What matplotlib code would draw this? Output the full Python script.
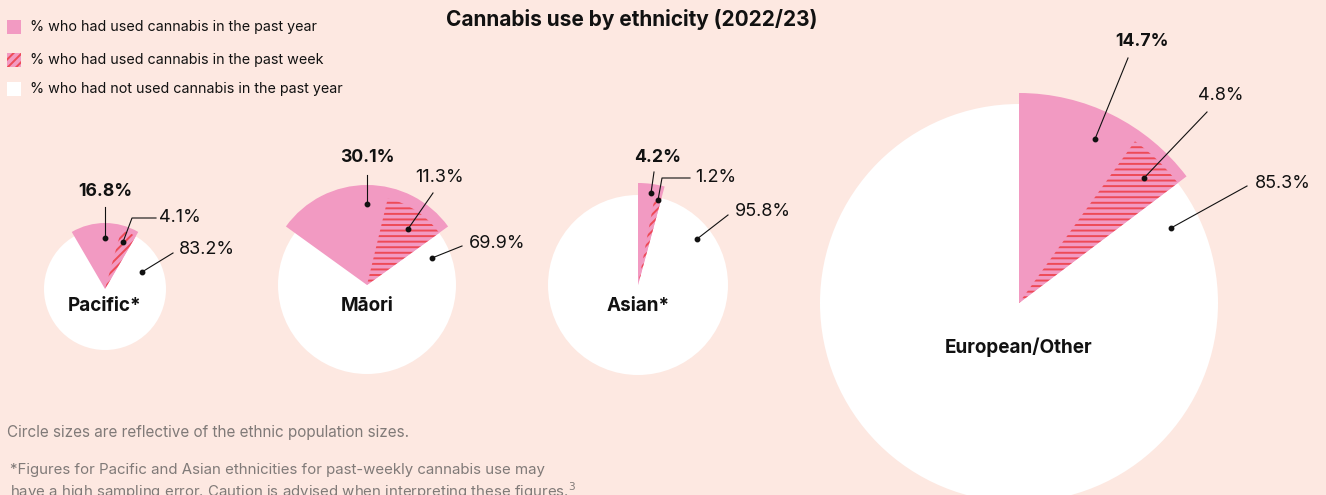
import matplotlib.pyplot as plt
from matplotlib.patches import Circle, Wedge, Rectangle

plt.rcParams['font.family'] = ['Inter', 'DejaVu Sans']
plt.rcParams['hatch.linewidth'] = 1.4

groups = ['Pacific*', 'Māori', 'Asian*', 'European/Other']
past_year = [16.8, 30.1, 4.2, 14.7]
past_week = [4.1, 11.3, 1.2, 4.8]
not_used = [83.2, 69.9, 95.8, 85.3]

W, H = 1326, 495
BG = '#fde8e1'
PINK = '#f29ac2'
RED = '#ee4a57'
INK = '#111111'

# circle layout in pixel coordinates
centres = [(105, 289), (367, 285), (638, 285), (1019, 303)]
radii = [61, 89, 90, 199]
outer = [66, 100, 102, 210]
centred = [True, True, False, False]
hatches = ['////', '---', '////', '---']
name_y = [306, 306, 306, 347]

# callouts: leader points (last one gets the dot) and text centre
year_call = [([(105, 207), (105, 238)], (105, 192)),
             ([(367, 175), (367, 204)], (367, 158)),
             ([(654, 172), (651, 193)], (658, 157)),
             ([(1128, 58), (1095, 139)], (1142, 42))]
week_call = [([(156, 218), (132, 218), (123, 242)], (180, 218)),
             ([(433, 193), (408, 229)], (440, 178)),
             ([(690, 178), (662, 178), (658, 200)], (716, 177)),
             ([(1207, 112), (1144, 178)], (1221, 95))]
none_call = [([(173, 253), (142, 272)], (207, 250)),
             ([(462, 246), (432, 258)], (497, 243)),
             ([(728, 215), (697, 239)], (763, 212)),
             ([(1247, 186), (1171, 228)], (1283, 183))]

fig = plt.figure(figsize=(W / 100, H / 100), dpi=100, facecolor=BG)
ax = fig.add_axes([0, 0, 1, 1])
ax.set_xlim(0, W)
ax.set_ylim(H, 0)
ax.axis('off')

for i, g in enumerate(groups):
    cx, cy = centres[i]
    span = past_year[i] * 3.6
    start = -span / 2 if centred[i] else 0
    # y axis is flipped, so increasing theta runs clockwise on screen
    t1 = start - 90
    t2 = start + span - 90
    tw = t2 - past_week[i] * 3.6
    ax.add_patch(Circle((cx, cy), radii[i], facecolor='white', lw=0))
    ax.add_patch(Wedge((cx, cy), outer[i], t1, t2, facecolor=PINK, lw=0))
    ax.add_patch(Wedge((cx, cy), radii[i], tw, t2, facecolor=PINK,
                       edgecolor=RED, hatch=hatches[i], lw=0))
    ax.text(cx, name_y[i], g, ha='center', va='center', fontsize=13.6,
            fontweight='bold', color=INK)


def callout(c, label, bold=False):
    pts, txt = c
    xs, ys = zip(*pts)
    ax.plot(xs, ys, color=INK, lw=0.8)
    ax.plot(*pts[-1], 'o', color=INK, ms=3.2)
    ax.text(txt[0], txt[1], label, ha='center', va='center',
            fontsize=12.7 if bold else 13, fontweight='bold' if bold else 'normal',
            color=INK)


for i in range(len(groups)):
    callout(year_call[i], f'{past_year[i]}%', bold=True)
    callout(week_call[i], f'{past_week[i]}%')
    callout(none_call[i], f'{not_used[i]}%')

ax.text(632, 20, 'Cannabis use by ethnicity (2022/23)', ha='center', va='center',
        fontsize=15, fontweight='bold', color=INK)

# legend
legend = ['% who had used cannabis in the past year',
          '% who had used cannabis in the past week',
          '% who had not used cannabis in the past year']
for j, (lab, y) in enumerate(zip(legend, [27, 60, 89])):
    if j == 0:
        ax.add_patch(Rectangle((7, y - 7), 14, 14, facecolor=PINK, lw=0))
    elif j == 1:
        ax.add_patch(Rectangle((7, y - 7), 14, 14, facecolor=PINK, edgecolor=RED,
                               hatch='////', lw=0))
    else:
        ax.add_patch(Rectangle((7, y - 7), 14, 14, facecolor='white', lw=0))
    ax.text(30, y, lab, ha='left', va='center', fontsize=10.3, color=INK)

GREY = '#807a78'
ax.text(7, 432, 'Circle sizes are reflective of the ethnic population sizes.',
        ha='left', va='center', fontsize=11, color=GREY)
ax.text(10, 470, '*Figures for Pacific and Asian ethnicities for past-weekly cannabis use may',
        ha='left', va='center', fontsize=10.8, color=GREY)
ax.text(10, 491, 'have a high sampling error. Caution is advised when interpreting these figures.$^3$',
        ha='left', va='center', fontsize=10.8, color=GREY)

fig.savefig('out.png', dpi=100, facecolor=BG)
